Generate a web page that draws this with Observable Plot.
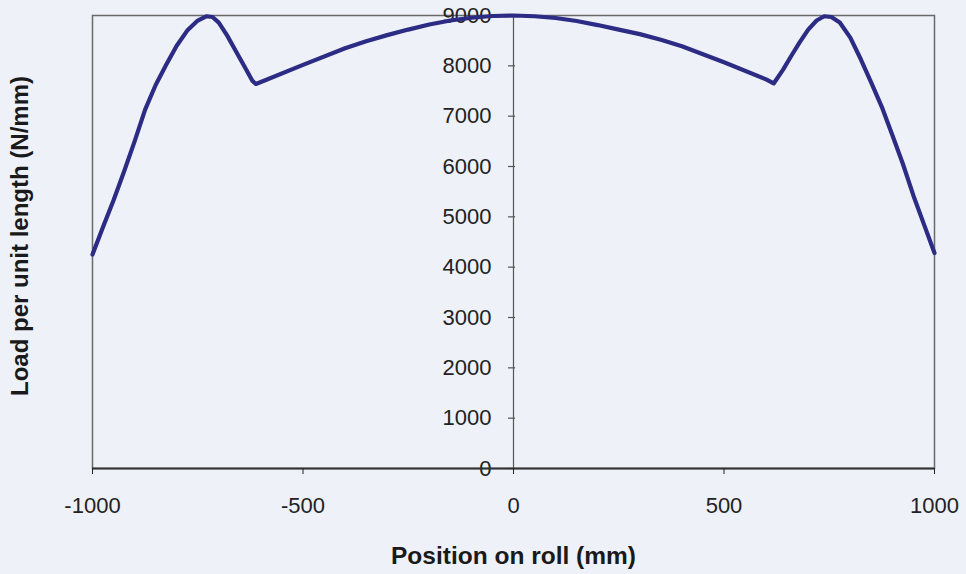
<!DOCTYPE html>
<html>
<head>
<meta charset="utf-8">
<script src="https://cdn.jsdelivr.net/npm/d3@7"></script>
<script src="https://cdn.jsdelivr.net/npm/@observablehq/plot@0.6"></script>
<style>
  html, body { margin: 0; padding: 0; background: #eef1f8; }
  #chart { width: 966px; height: 574px; }
</style>
</head>
<body>
<div id="chart"></div>
<script>
// Load distribution along the roll barrel (N/mm) against position (mm)
const positions = [-1000, -975, -950, -925, -900, -875, -850, -825, -800, -775, -750, -730, -715, -700, -680, -660, -640, -620, -612,
  -600, -500, -400, -350, -300, -250, -200, -150, -100, -50, 0,
  50, 100, 150, 200, 250, 300, 350, 400, 500, 600, 618,
  640, 660, 680, 700, 720, 738, 755, 775, 800, 825, 850, 875, 900, 925, 950, 975, 1000];
const loads = [4250, 4800, 5330, 5900, 6500, 7130, 7620, 8020, 8400, 8700, 8900, 8985, 8970, 8860, 8600, 8300, 8000, 7700, 7640,
  7680, 8020, 8350, 8490, 8610, 8720, 8820, 8900, 8955, 8990, 9000,
  8985, 8950, 8890, 8810, 8720, 8630, 8520, 8390, 8070, 7730, 7650,
  7920, 8200, 8470, 8720, 8900, 8985, 8970, 8860, 8560, 8130, 7660, 7180, 6620, 6050, 5420, 4850, 4280];

const xTicks = [-1000, -500, 0, 500, 1000];
const yTicks = [0, 1000, 2000, 3000, 4000, 5000, 6000, 7000, 8000, 9000];
const xLabel = "Position on roll (mm)";
const yLabel = "Load per unit length (N/mm)";

const profile = positions.map((x, i) => ({x, y: loads[i]}));

const chart = Plot.plot({
  width: 966,
  height: 574,
  marginLeft: 92,
  marginRight: 32,
  marginTop: 15,
  marginBottom: 106,
  style: {
    background: "transparent",
    fontFamily: "'Liberation Sans', Arial, sans-serif",
    fontSize: "22px",
    color: "#222"
  },
  x: {domain: [-1000, 1000]},
  y: {domain: [0, 9000], axis: null},
  marks: [
    Plot.frame({stroke: "#6a6a6a", strokeWidth: 1.5}),
    // value axis drawn through x = 0
    Plot.ruleX([0], {stroke: "#555", strokeWidth: 1.2}),
    Plot.ruleY(yTicks, {y: d => d, x1: -12, x2: 5, stroke: "#555", strokeWidth: 1.2}),
    Plot.text(yTicks, {x: 0, y: d => d, text: d => String(d), textAnchor: "end", dx: -22, fontSize: 22, fill: "#222"}),
    Plot.ruleY([0], {stroke: "#333", strokeWidth: 2}),
    Plot.axisX({ticks: xTicks, tickSize: 6, tickPadding: 23, label: null, tickFormat: d => String(d), fontSize: 22}),
    Plot.line(profile, {x: "x", y: "y", stroke: "#2c2c85", strokeWidth: 4.2, strokeLinejoin: "round", strokeLinecap: "round"}),
    Plot.text([xLabel], {frameAnchor: "bottom", dy: 88, lineAnchor: "middle", textAnchor: "middle", fontSize: 24.5, fontWeight: "bold", fill: "#1a1a1a"}),
    Plot.text([yLabel], {frameAnchor: "left", dx: -72, dy: -6, rotate: -90, lineAnchor: "middle", textAnchor: "middle", fontSize: 24, fontWeight: "bold", fill: "#1a1a1a"})
  ]
});

document.getElementById("chart").append(chart);
</script>
</body>
</html>
